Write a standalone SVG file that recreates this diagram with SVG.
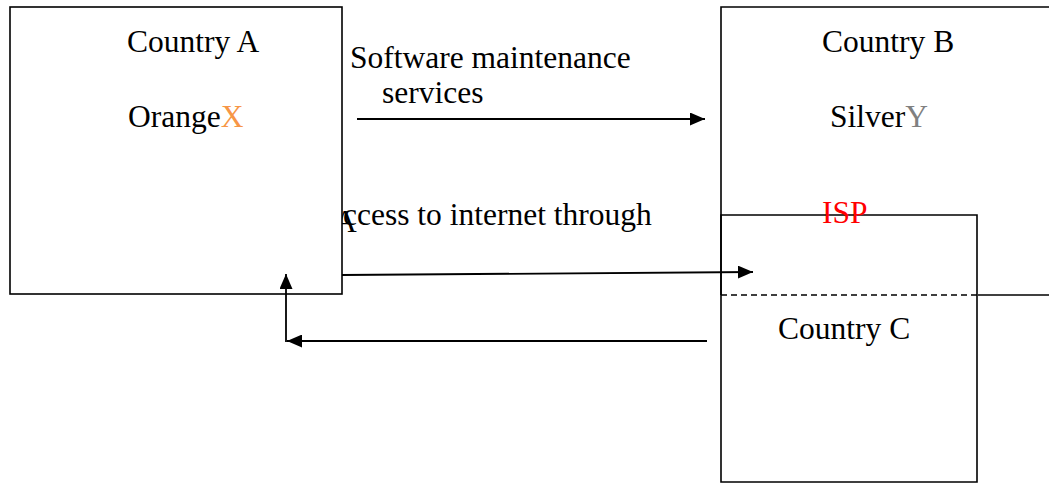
<svg xmlns="http://www.w3.org/2000/svg" width="1049" height="484" viewBox="0 0 1049 484">
  <defs>
    <marker id="arrow" viewBox="0 0 15 13" refX="15" refY="6.5" markerWidth="15" markerHeight="13" markerUnits="userSpaceOnUse" orient="auto">
      <path d="M0,0 L15,6.5 L0,13 Z" fill="#000"/>
    </marker>
  </defs>
  <style>
    .box { fill: #fff; stroke: #000; stroke-width: 1.6; }
    .edge { fill: none; stroke: #000; stroke-width: 1.6; }
    .conn { fill: none; stroke: #000; stroke-width: 1.8; marker-end: url(#arrow); }
    text { font-family: "Liberation Serif", "Times New Roman", serif; font-size: 31.5px; fill: #000; }
    .orange { fill: #F79646; }
    .grey { fill: #808080; }
    .red { fill: #FF0000; }
  </style>

  <!-- stray first letter of the access label, partly hidden behind Country A -->
  <text x="334" y="232">A</text>

  <g id="country-a">
    <rect class="box" x="10" y="7" width="332" height="287"/>
    <text x="127" y="52">Country A</text>
    <text x="128" y="127">Orange<tspan class="orange">X</tspan></text>
  </g>

  <g id="country-b">
    <path class="edge" d="M1049,7 H721 V295"/>
    <path class="edge" d="M721,295 H978" stroke-dasharray="6 4"/>
    <path class="edge" d="M978,295 H1049"/>
    <text x="822" y="52">Country B</text>
    <text x="830" y="127">Silver<tspan class="grey">Y</tspan></text>
  </g>

  <g id="country-c">
    <path class="edge" d="M721,215 H977 V482 H721 Z"/>
    <text class="red" x="822" y="223">ISP</text>
    <text x="778" y="339">Country C</text>
  </g>

  <g id="connectors">
    <line class="conn" x1="357" y1="119" x2="705" y2="119"/>
    <line class="conn" x1="342" y1="275" x2="753" y2="272"/>
    <line class="conn" x1="707" y1="341" x2="287" y2="341"/>
    <line class="conn" x1="286" y1="342" x2="286" y2="274"/>
  </g>

  <g id="labels">
    <text x="350" y="68">Software maintenance</text>
    <text x="382" y="103">services</text>
    <text x="343" y="225">ccess to internet through</text>
  </g>
</svg>
